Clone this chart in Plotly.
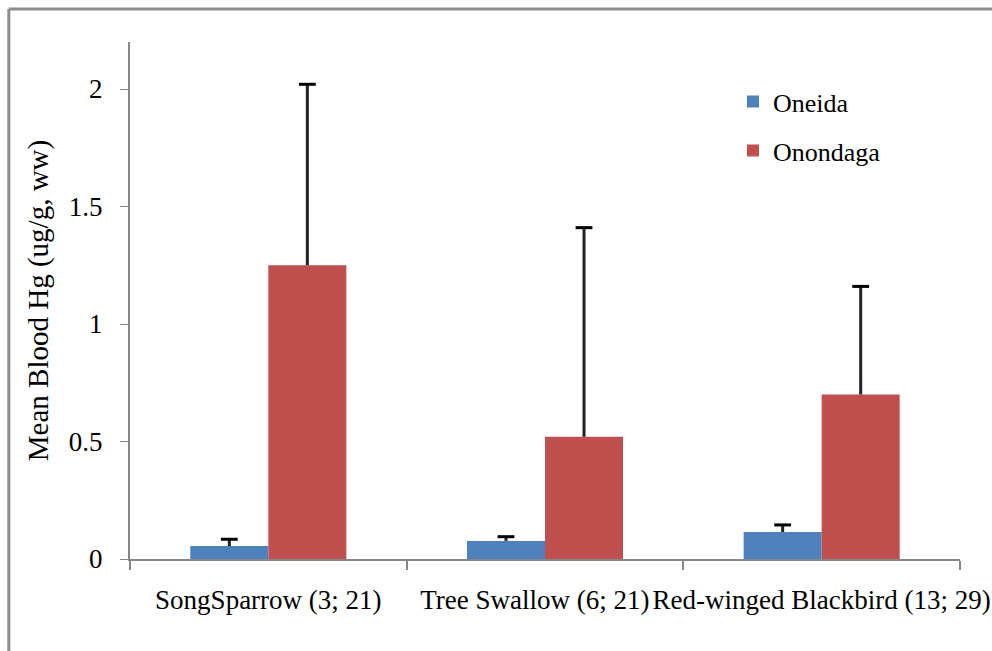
import plotly.graph_objects as go

# Species (Oneida n; Onondaga n)
species_labels = ["SongSparrow (3; 21)", "Tree Swallow (6; 21)\u00a0\u00a0\u00a0",
                  "Red-winged Blackbird (13; 29)"]
species_pos = [0, 1, 2]

oneida_mean = [0.055, 0.077, 0.115]
oneida_err = [0.029, 0.018, 0.030]
onondaga_mean = [1.25, 0.52, 0.70]
onondaga_err = [0.77, 0.89, 0.46]

y_ticks = [0, 0.5, 1, 1.5, 2]
y_tick_text = ["0", "0.5", "1", "1.5", "2"]

serif = "Liberation Serif, Times New Roman, serif"
axis_grey = "#878787"
bar_w = 0.282

series = [
    ("Oneida", oneida_mean, oneida_err, "#4F81BD", -bar_w),
    ("Onondaga", onondaga_mean, onondaga_err, "#C0504D", 0.0),
]

fig = go.Figure()
for name, means, errs, color, off in series:
    fig.add_trace(go.Bar(
        name=name, x=species_pos, y=means, width=bar_w, offset=off,
        marker=dict(color=color, line=dict(width=0)),
        legendgroup=name,
    ))

# upper-only error bars: stem from the mean up to mean + error, cap on top
for name, means, errs, color, off in series:
    cx = [p + off + bar_w / 2 for p in species_pos]
    sx, sy = [], []
    for x, m, e in zip(cx, means, errs):
        sx += [x, x, None]
        sy += [m, m + e, None]
    fig.add_trace(go.Scatter(
        x=sx, y=sy, mode="lines", line=dict(color="#222222", width=3),
        showlegend=False, hoverinfo="skip",
    ))
    fig.add_trace(go.Scatter(
        x=cx, y=[m + e for m, e in zip(means, errs)], mode="markers",
        marker=dict(symbol="line-ew", size=12, line=dict(color="black", width=3)),
        showlegend=False, hoverinfo="skip",
    ))

fig.update_layout(
    width=992, height=651,
    margin=dict(l=130, r=32, t=42, b=92, autoexpand=False),
    paper_bgcolor="white", plot_bgcolor="white",
    font=dict(family=serif, size=26, color="black"),
    showlegend=True,
    legend=dict(
        x=0.7265, y=0.93, xanchor="left", yanchor="top",
        font=dict(family=serif, size=26, color="black"),
        bgcolor="rgba(0,0,0,0)", tracegroupgap=12,
        itemwidth=30,
    ),
    xaxis=dict(
        range=[-0.5, 2.5], automargin=False,
        tickmode="array", tickvals=species_pos, ticktext=species_labels,
        tickangle=0, ticks="", ticklabelstandoff=16,
        minor=dict(tickmode="array", tickvals=[-0.5, 0.5, 1.5, 2.5],
                   ticks="outside", ticklen=9, tickwidth=2, tickcolor=axis_grey,
                   showgrid=False),
        showline=True, linecolor=axis_grey, linewidth=2,
        showgrid=False, zeroline=False,
        tickfont=dict(family=serif, size=27),
    ),
    yaxis=dict(
        range=[0, 2.2], automargin=False,
        tickmode="array", tickvals=y_ticks, ticktext=y_tick_text,
        ticks="outside", ticklen=8, tickwidth=1, tickcolor=axis_grey,
        ticklabelstandoff=12,
        showline=True, linecolor=axis_grey, linewidth=2,
        showgrid=False, zeroline=False,
        tickfont=dict(family=serif, size=27),
        title=dict(text="Mean Blood Hg (ug/g, ww)",
                   font=dict(family=serif, size=29), standoff=12),
    ),
    shapes=[
        # chart-area frame (left and top edges)
        dict(type="line", xref="paper", yref="paper",
             x0=-0.146, x1=-0.146, y0=-0.25, y1=1.064,
             line=dict(color="#8c8c8c", width=3)),
        dict(type="line", xref="paper", yref="paper",
             x0=-0.146, x1=1.2, y0=1.064, y1=1.064,
             line=dict(color="#8c8c8c", width=3)),
    ],
)

fig.write_html("out.html")
